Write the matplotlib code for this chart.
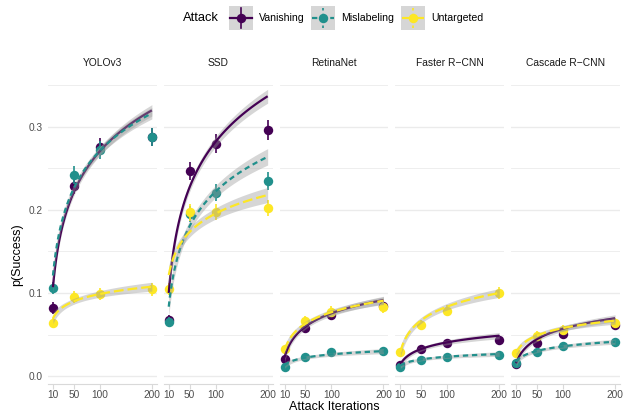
import matplotlib
matplotlib.use("Agg")
import numpy as np
import matplotlib.pyplot as plt
from matplotlib.patches import Rectangle
from matplotlib.lines import Line2D

plt.rcParams['font.family'] = ['Liberation Sans', 'DejaVu Sans']

# ---- data -------------------------------------------------------------
iterations = [10, 50, 100, 200]
detectors = ["YOLOv3", "SSD", "RetinaNet", "Faster R\u2212CNN", "Cascade R\u2212CNN"]
attacks = ["Vanishing", "Mislabeling", "Untargeted"]

# mean success rate per detector (rows) and iteration count (columns)
vanishing_p = [[0.082, 0.229, 0.276, 0.288],
               [0.067, 0.247, 0.280, 0.296],
               [0.020, 0.058, 0.074, 0.084],
               [0.0135, 0.0325, 0.040, 0.044],
               [0.0145, 0.040, 0.051, 0.062]]
mislabeling_p = [[0.106, 0.242, 0.272, 0.288],
                 [0.0655, 0.195, 0.221, 0.235],
                 [0.0112, 0.0233, 0.0293, 0.030],
                 [0.0112, 0.0193, 0.0233, 0.0253],
                 [0.016, 0.029, 0.0365, 0.0406]]
untargeted_p = [[0.0635, 0.0948, 0.0984, 0.1044],
                [0.1048, 0.197, 0.198, 0.202],
                [0.032, 0.066, 0.0775, 0.0827],
                [0.0293, 0.0614, 0.0787, 0.1004],
                [0.028, 0.0486, 0.056, 0.064]]

# 95% interval half-widths
vanishing_ci = [[0.007, 0.010, 0.011, 0.011],
                [0.006, 0.011, 0.011, 0.012],
                [0.0035, 0.0057, 0.0064, 0.0068],
                [0.003, 0.0044, 0.0048, 0.005],
                [0.003, 0.0048, 0.0054, 0.006]]
mislabeling_ci = [[0.0075, 0.0105, 0.011, 0.011],
                  [0.006, 0.0097, 0.010, 0.0104],
                  [0.0026, 0.0037, 0.0042, 0.0042],
                  [0.0026, 0.0034, 0.0037, 0.0038],
                  [0.0031, 0.0041, 0.0046, 0.0048]]
untargeted_ci = [[0.006, 0.0072, 0.0073, 0.0075],
                 [0.0075, 0.0097, 0.0098, 0.0098],
                 [0.0043, 0.0061, 0.0065, 0.0068],
                 [0.0041, 0.0059, 0.0066, 0.0074],
                 [0.004, 0.0053, 0.0056, 0.006]]

# logarithmic trend: fitted value at 10 and at 200 iterations
vanishing_fit = [(0.107, 0.320), (0.100, 0.337), (0.0225, 0.0915),
                 (0.014, 0.0486), (0.0153, 0.0695)]
mislabeling_fit = [(0.121, 0.3165), (0.0835, 0.264), (0.013, 0.030),
                   (0.0125, 0.0265), (0.0173, 0.0413)]
untargeted_fit = [(0.0695, 0.1076), (0.1217, 0.218), (0.031, 0.0907),
                  (0.029, 0.100), (0.028, 0.0667)]

# standard error of the trend at the centre of the log-iteration range
vanishing_se = [0.0045, 0.0055, 0.003, 0.0025, 0.0028]
mislabeling_se = [0.0045, 0.0065, 0.002, 0.0018, 0.002]
untargeted_se = [0.0035, 0.006, 0.003, 0.0035, 0.0028]

p_by_attack = {"Vanishing": vanishing_p, "Mislabeling": mislabeling_p, "Untargeted": untargeted_p}
ci_by_attack = {"Vanishing": vanishing_ci, "Mislabeling": mislabeling_ci, "Untargeted": untargeted_ci}
fit_by_attack = {"Vanishing": vanishing_fit, "Mislabeling": mislabeling_fit, "Untargeted": untargeted_fit}
se_by_attack = {"Vanishing": vanishing_se, "Mislabeling": mislabeling_se, "Untargeted": untargeted_se}

# ---- styling ----------------------------------------------------------
colors = {"Vanishing": "#440154", "Mislabeling": "#21908C", "Untargeted": "#FDE725"}
dashes = {"Vanishing": None, "Mislabeling": (2.4, 1.7), "Untargeted": (4.4, 1.8)}
grid_col = "#EBEBEB"
text_col = "#4D4D4D"
ribbon_col = "#999999"

W, H = 625, 413
fig = plt.figure(figsize=(W / 100, H / 100), dpi=100)

panel_left, panel_w, panel_gap = 48, 108.8, 7
panel_top, panel_bot = 73, 384
ylim = (-0.0096, 0.365)
xlim = (0.5, 209.5)

lx = np.log(np.array(iterations, dtype=float))
lx_mean = lx.mean()
lx_var = ((lx - lx_mean) ** 2).mean()
xs = np.linspace(10, 200, 120)
lxs = np.log(xs)
t = (lxs - np.log(10)) / (np.log(200) - np.log(10))
se_shape = np.sqrt(1 + (lxs - lx_mean) ** 2 / lx_var)

for i, det in enumerate(detectors):
    left = panel_left + i * (panel_w + panel_gap)
    ax = fig.add_axes([left / W, (H - panel_bot) / H, panel_w / W, (panel_bot - panel_top) / H])
    ax.set_xlim(*xlim)
    ax.set_ylim(*ylim)
    for s in ["top", "right", "left"]:
        ax.spines[s].set_visible(False)
    ax.spines["bottom"].set_color("#D9D9D9")
    ax.spines["bottom"].set_linewidth(0.8)
    ax.set_yticks([0.0, 0.1, 0.2, 0.3])
    ax.set_yticks([0.05, 0.15, 0.25, 0.35], minor=True)
    ax.grid(axis="y", which="major", color=grid_col, linewidth=1.0)
    ax.grid(axis="y", which="minor", color=grid_col, linewidth=0.6)
    ax.set_axisbelow(True)
    ax.tick_params(axis="y", which="both", length=0)
    ax.set_xticks(iterations)
    ax.set_xticklabels([str(v) for v in iterations])
    ax.tick_params(axis="x", length=3.5, color="#D9D9D9", width=0.8, pad=1.0,
                   labelsize=7.3, labelcolor=text_col)
    if i == 0:
        ax.set_yticklabels(["0.0", "0.1", "0.2", "0.3"])
        ax.tick_params(axis="y", labelsize=7.3, labelcolor=text_col, pad=4)
    else:
        ax.set_yticklabels([])

    # points with interval bars
    for k, atk in enumerate(attacks):
        p = p_by_attack[atk][i]
        ci = ci_by_attack[atk][i]
        ax.vlines(iterations, np.array(p) - np.array(ci), np.array(p) + np.array(ci),
                  color=colors[atk], linewidth=1.2, zorder=3 + k * 0.1)
        ax.plot(iterations, p, "o", color=colors[atk], markersize=6.8,
                markeredgewidth=0, zorder=3 + k * 0.1)

    # log trend lines with standard-error ribbons
    for k, atk in enumerate(attacks):
        s0, s1 = fit_by_attack[atk][i]
        fit = s0 + (s1 - s0) * t
        band = se_by_attack[atk][i] * se_shape
        ax.fill_between(xs, fit - band, fit + band, color=ribbon_col, alpha=0.4,
                        linewidth=0, zorder=4 + k * 0.2)
        ln, = ax.plot(xs, fit, color=colors[atk], linewidth=1.6, zorder=4.1 + k * 0.2,
                      solid_capstyle="butt", dash_capstyle="butt")
        if dashes[atk] is not None:
            ln.set_dashes(dashes[atk])

    fig.text((left + panel_w / 2) / W, (H - 63) / H, det, ha="center", va="center",
             fontsize=7.4, color="#1A1A1A")

# axis titles
fig.text(334 / W, (H - 407) / H, "Attack Iterations", ha="center", va="center",
         fontsize=9.0, color="black")
fig.text(17 / W, (H - 255) / H, "p(Success)", ha="center", va="center",
         rotation=90, fontsize=9.0, color="black")

# legend drawn on an overlay in pixel coordinates
lax = fig.add_axes([0, 0, 1, 1], zorder=10)
lax.set_xlim(0, W)
lax.set_ylim(H, 0)
lax.axis("off")
lax.text(183, 18, "Attack", ha="left", va="center", fontsize=9.3, color="black")
key_x = [229, 311, 401]
lab_x = [259, 341, 431]
for kx, tx, atk in zip(key_x, lab_x, attacks):
    lax.add_patch(Rectangle((kx, 6), 24, 24, facecolor="#D6D6D6", edgecolor="none"))
    hl = Line2D([kx + 1, kx + 23], [18, 18], color=colors[atk], linewidth=1.6)
    vl = Line2D([kx + 12, kx + 12], [8, 28], color=colors[atk], linewidth=1.2)
    if dashes[atk] is not None:
        hl.set_dashes(dashes[atk])
        vl.set_dashes((1.5, 2.0))
    lax.add_line(hl)
    lax.add_line(vl)
    lax.plot([kx + 12], [18], "o", color=colors[atk], markersize=6.8, markeredgewidth=0)
    lax.text(tx, 18, atk, ha="left", va="center", fontsize=7.6, color="black")

fig.savefig("out.png", dpi=100)
